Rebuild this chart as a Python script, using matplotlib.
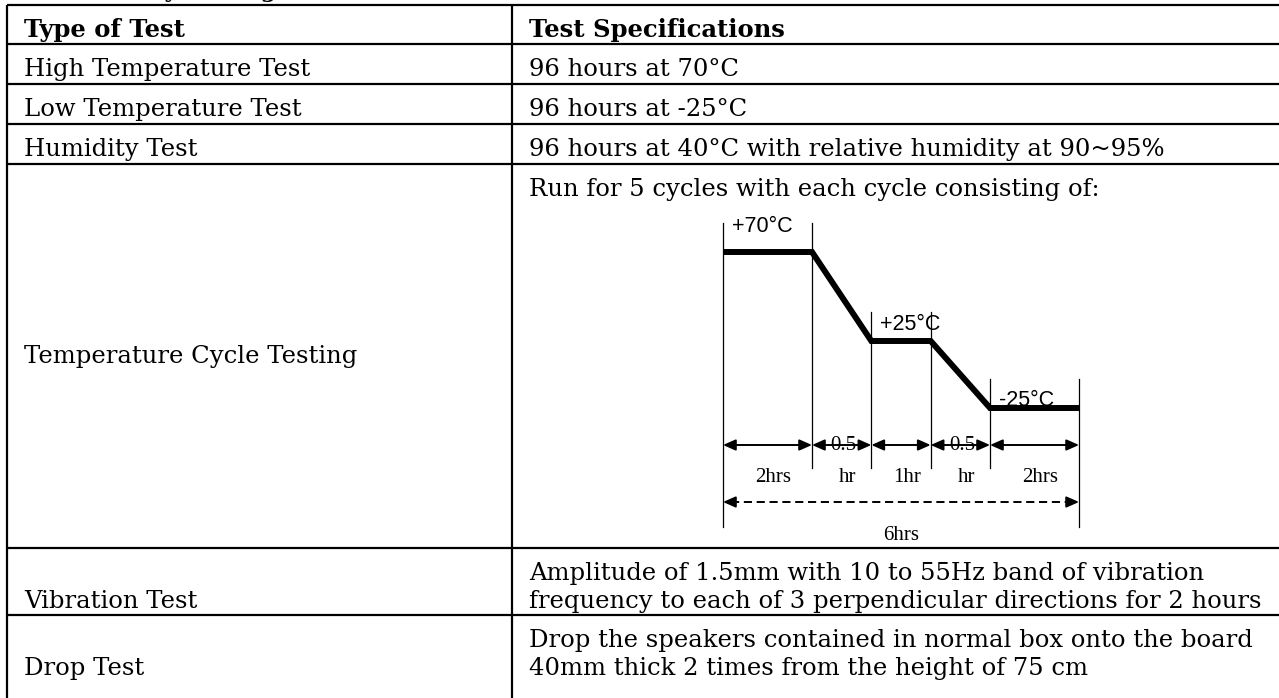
import matplotlib
matplotlib.use("Agg")
import matplotlib.pyplot as plt

# ---------------- data ----------------
title = "Reliability Testing"
col_headers = ["Type of Test", "Test Specifications"]
test_types = ["High Temperature Test", "Low Temperature Test", "Humidity Test",
              "Temperature Cycle Testing", "Vibration Test", "Drop Test"]
test_specs = [
    ["96 hours at 70°C"],
    ["96 hours at -25°C"],
    ["96 hours at 40°C with relative humidity at 90~95%"],
    ["Run for 5 cycles with each cycle consisting of:"],
    ["Amplitude of 1.5mm with 10 to 55Hz band of vibration",
     "frequency to each of 3 perpendicular directions for 2 hours"],
    ["Drop the speakers contained in normal box onto the board",
     "40mm thick 2 times from the height of 75 cm"],
]
cycle_levels = ["+70°C", "+25°C", "-25°C"]
cycle_durations = [2, 0.5, 1, 0.5, 2]
duration_top = ["", "0.5", "", "0.5", ""]
duration_bottom = ["2hrs", "hr", "1hr", "hr", "2hrs"]
cycle_total = "6hrs"

# ---------------- layout ----------------
W, H = 1279, 698
fig = plt.figure(figsize=(W / 100, H / 100), dpi=100)
ax = fig.add_axes([0, 0, 1, 1])
ax.set_xlim(0, W)
ax.set_ylim(H, 0)
ax.axis("off")

x_left, x_div = 7, 512
pad_l, pad_r = 17, 17
row_tops = [5, 44, 84, 124, 164, 548, 615]
row_bottoms = row_tops[1:] + [H + 20]
base_off = 32
line_gap = 28
body_font = dict(family="DejaVu Serif", fontsize=17.45, color="black")
bold_font = dict(family="DejaVu Serif", fontsize=17.45, color="black", fontweight="bold")
tlw = 1.6

# title (cut off at top)
ax.text(50, -3, title, va="baseline", ha="left",
        family="DejaVu Serif", fontsize=16, fontweight="bold")

# grid lines
for y in row_tops:
    ax.plot([x_left, W], [y, y], color="black", lw=tlw, solid_capstyle="butt", zorder=6)
for x in (x_left, x_div):
    ax.plot([x, x], [row_tops[0], H], color="black", lw=tlw, solid_capstyle="butt", zorder=6)
ax.fill_between([0, W], -10, row_tops[0], color="white", zorder=1)

# header
ax.text(x_left + pad_l, row_tops[0] + base_off, col_headers[0], va="baseline", **bold_font)
ax.text(x_div + pad_r, row_tops[0] + base_off, col_headers[1], va="baseline", **bold_font)

# body rows
for i, (name, spec) in enumerate(zip(test_types, test_specs)):
    top = row_tops[i + 1]
    bot = row_bottoms[i + 1]
    for j, line in enumerate(spec):
        ax.text(x_div + pad_r, top + base_off + j * line_gap, line, va="baseline", **body_font)
    if name == "Temperature Cycle Testing":
        ax.text(x_left + pad_l, (top + bot) / 2 + 7, name, va="baseline", **body_font)
    else:
        ax.text(x_left + pad_l, top + base_off + (len(spec) - 1) * line_gap, name,
                va="baseline", **body_font)

# ---------------- temperature cycle diagram ----------------
dx0 = 723
seg_units = [3, 2, 2, 2, 3]        # schematic widths
unit_px = 29.67
level_y = [252, 341, 408]
xs = [dx0]
for u in seg_units:
    xs.append(xs[-1] + u * unit_px)

plateaus = [(0, 1, 0), (2, 3, 1), (4, 5, 2)]  # (x index start, end, level)
px, py = [], []
for a, b, lv in plateaus:
    px += [xs[a], xs[b]]
    py += [level_y[lv], level_y[lv]]

sans = dict(family="Liberation Sans", fontsize=15.5, color="black")
serif = dict(family="Liberation Serif", fontsize=15, color="black")

label_dy = [26, 16, 7]
for (a, b, lv), lab in zip(plateaus, cycle_levels):
    ax.text(xs[a] + 9, level_y[lv] - label_dy[lv], lab, va="center", ha="left", zorder=2, **sans)

ax.plot(px, py, color="black", lw=4.3, solid_joinstyle="miter", solid_capstyle="butt", zorder=4)

# vertical guide lines
v_tops = [level_y[0], level_y[0], level_y[1], level_y[1], level_y[2], level_y[2]]
v_bots = [527, 468, 468, 468, 468, 527]
for x, t, b in zip(xs, v_tops, v_bots):
    ax.plot([x, x], [t - 29, b], color="black", lw=0.9, zorder=3)

# segment arrows
arr_y = 445
for i in range(len(cycle_durations)):
    x0, x1 = xs[i], xs[i + 1]
    if duration_top[i]:
        ax.text((x0 + x1) / 2 + 2, arr_y, duration_top[i], ha="center", va="center",
                zorder=2, **serif)
    ax.annotate("", xy=(x1, arr_y), xytext=(x0, arr_y),
                arrowprops=dict(arrowstyle="<|-|>,head_length=0.75,head_width=0.33",
                                mutation_scale=10, lw=1.4, color="black",
                                shrinkA=0, shrinkB=0), zorder=5)
    ax.text((x0 + x1) / 2 + 6, 478, duration_bottom[i], ha="center", va="center", **serif)

# dashed total arrow
tot_y = 502
ax.plot([xs[0] + 8, xs[-1] - 8], [tot_y, tot_y], color="black", lw=1.4,
        dashes=(4.2, 2.4))
for xa, xb in ((xs[0] + 10, xs[0]), (xs[-1] - 10, xs[-1])):
    ax.annotate("", xy=(xb, tot_y), xytext=(xa, tot_y),
                arrowprops=dict(arrowstyle="-|>,head_length=0.75,head_width=0.33",
                                mutation_scale=10, lw=1.4, color="black",
                                shrinkA=0, shrinkB=0))
ax.text((xs[0] + xs[-1]) / 2, 535, cycle_total, ha="center", va="center", **serif)

fig.savefig("out.png", dpi=100, facecolor="white")
